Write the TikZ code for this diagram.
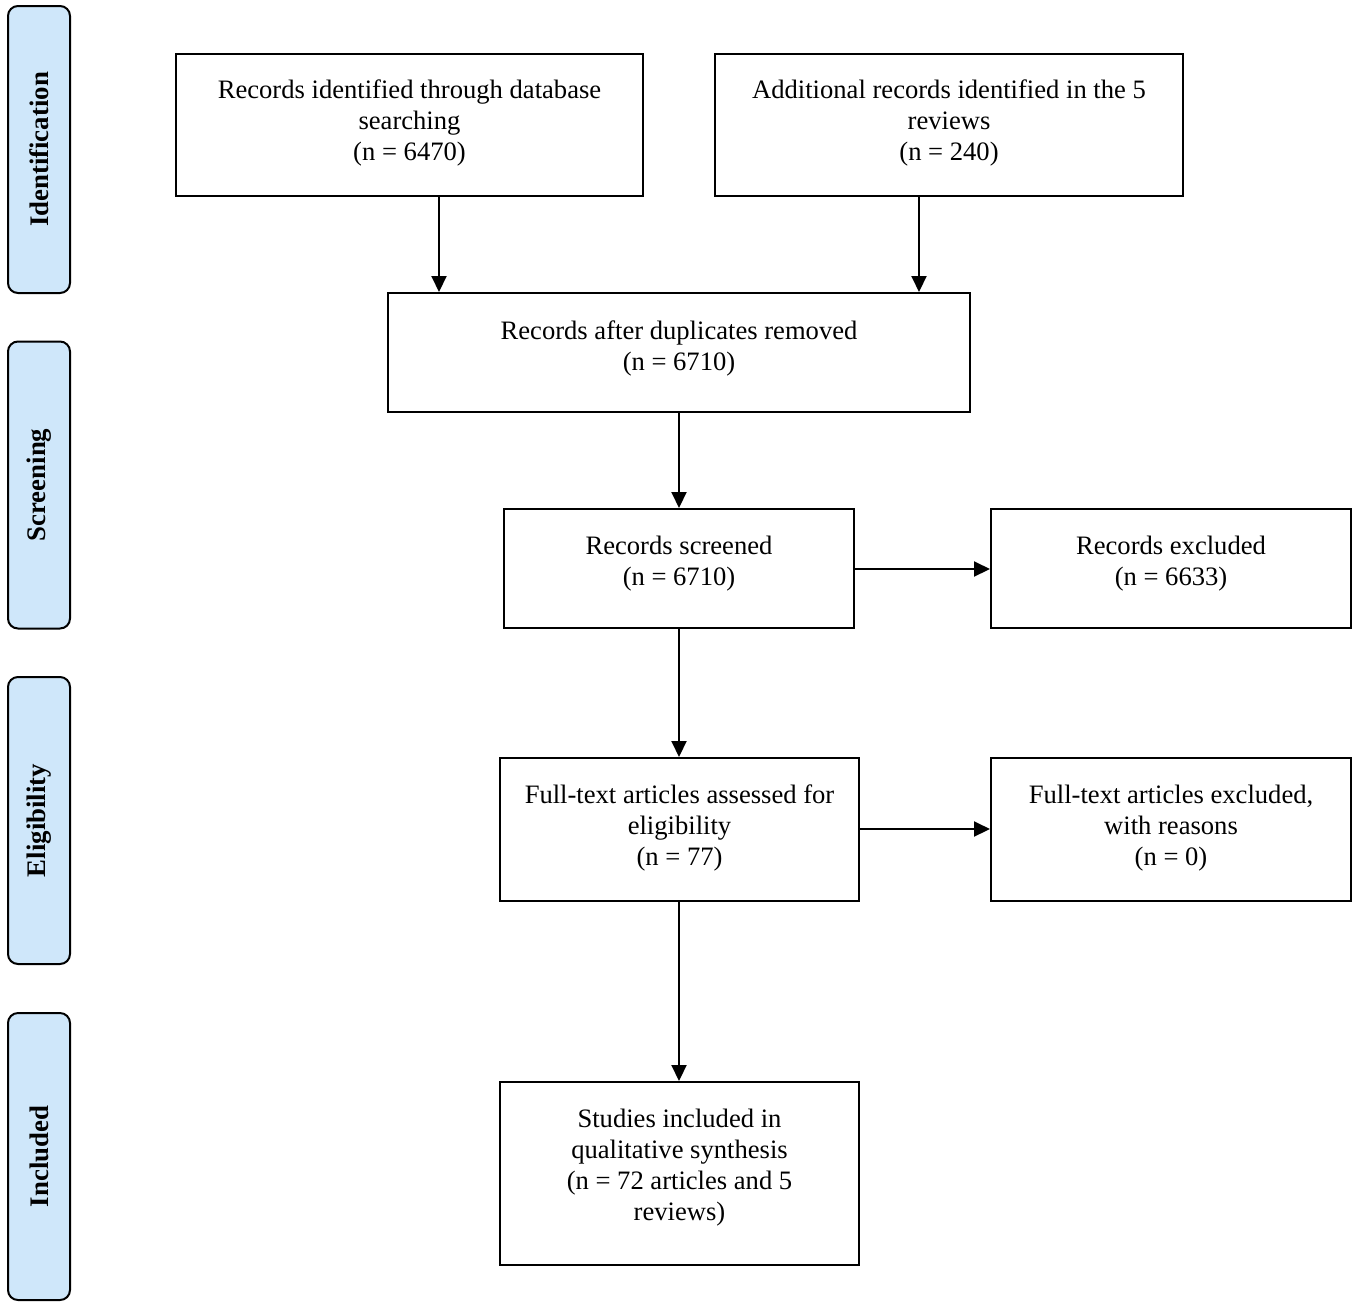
\documentclass[tikz,border=0pt]{standalone}
\usepackage{fontspec}
\setmainfont{Liberation Serif}
\usetikzlibrary{arrows.meta}
\definecolor{phasefill}{RGB}{207,231,250}
\tikzset{
  box/.style={draw, line width=1pt, inner sep=0pt},
  txt/.style={align=center, inner sep=0pt,
    font=\fontsize{13.3}{15.5}\selectfont},
  phase/.style={draw, line width=1pt, fill=phasefill, rounded corners=5pt,
    minimum width=31pt, minimum height=143.5pt, inner sep=0pt},
  phaselabel/.style={rotate=90, font=\fontsize{13.4}{15}\selectfont\bfseries},
  arr/.style={line width=1pt, -{Triangle[length=8pt,width=7.5pt]}}
}
\begin{document}
\begin{tikzpicture}[x=0.5pt,y=-0.5pt]
\useasboundingbox (0,0) rectangle (1358,1312);
% phase bars
\node[phase] (pI) at (39,149.5) {};
\node[phaselabel] (lI) at (39,149.5) {Identification};
\node[phase] (pS) at (39,485) {};
\node[phaselabel] (lS) at (39,485) {Screening};
\node[phase] (pE) at (39,820.5) {};
\node[phaselabel] (lE) at (39,820.5) {Eligibility};
\node[phase] (pN) at (39,1156.5) {};
\node[phaselabel] (lN) at (39,1156.5) {Included};
% boxes
\node[box, minimum width=233.5pt, minimum height=71pt] (b1) at (409.5,125) {};
\node[txt] (t1) at (409.5,123) {Records identified through database\\searching\\(n = 6470)};
\node[box, minimum width=234pt, minimum height=71pt] (b2) at (949,125) {};
\node[txt] (t2) at (949,123) {Additional records identified in the 5\\reviews\\(n = 240)};
\node[box, minimum width=291pt, minimum height=59.5pt] (b3) at (679,352.5) {};
\node[txt] (t3) at (679,348) {Records after duplicates removed\\(n = 6710)};
\node[box, minimum width=175pt, minimum height=59.5pt] (b4) at (679,568.5) {};
\node[txt] (t4) at (679,564) {Records screened\\(n = 6710)};
\node[box, minimum width=180pt, minimum height=59.5pt] (b5) at (1171,568.5) {};
\node[txt] (t5) at (1171,564) {Records excluded\\(n = 6633)};
\node[box, minimum width=179.5pt, minimum height=71.5pt] (b6) at (679.5,829.5) {};
\node[txt] (t6) at (679.5,828) {Full-text articles assessed for\\eligibility\\(n = 77)};
\node[box, minimum width=180pt, minimum height=71.5pt] (b7) at (1171,829.5) {};
\node[txt] (t7) at (1171,828) {Full-text articles excluded,\\with reasons\\(n = 0)};
\node[box, minimum width=179.5pt, minimum height=91.5pt] (b8) at (679.5,1173.5) {};
\node[txt] (t8) at (679.5,1168) {Studies included in\\qualitative synthesis\\(n = 72 articles and 5\\reviews)};
% arrows
\draw[arr] (b1.south -| 439,0) -- (b3.north -| 439,0);
\draw[arr] (b2.south -| 919,0) -- (b3.north -| 919,0);
\draw[arr] (b3.south -| b4.north) -- (b4.north);
\draw[arr] (b4.east |- 0,569) -- (b5.west |- 0,569);
\draw[arr] (b4.south) -- (b6.north -| b4.south);
\draw[arr] (b6.east |- 0,829) -- (b7.west |- 0,829);
\draw[arr] (b6.south -| b4.south) -- (b8.north -| b4.south);
\end{tikzpicture}
\end{document}
